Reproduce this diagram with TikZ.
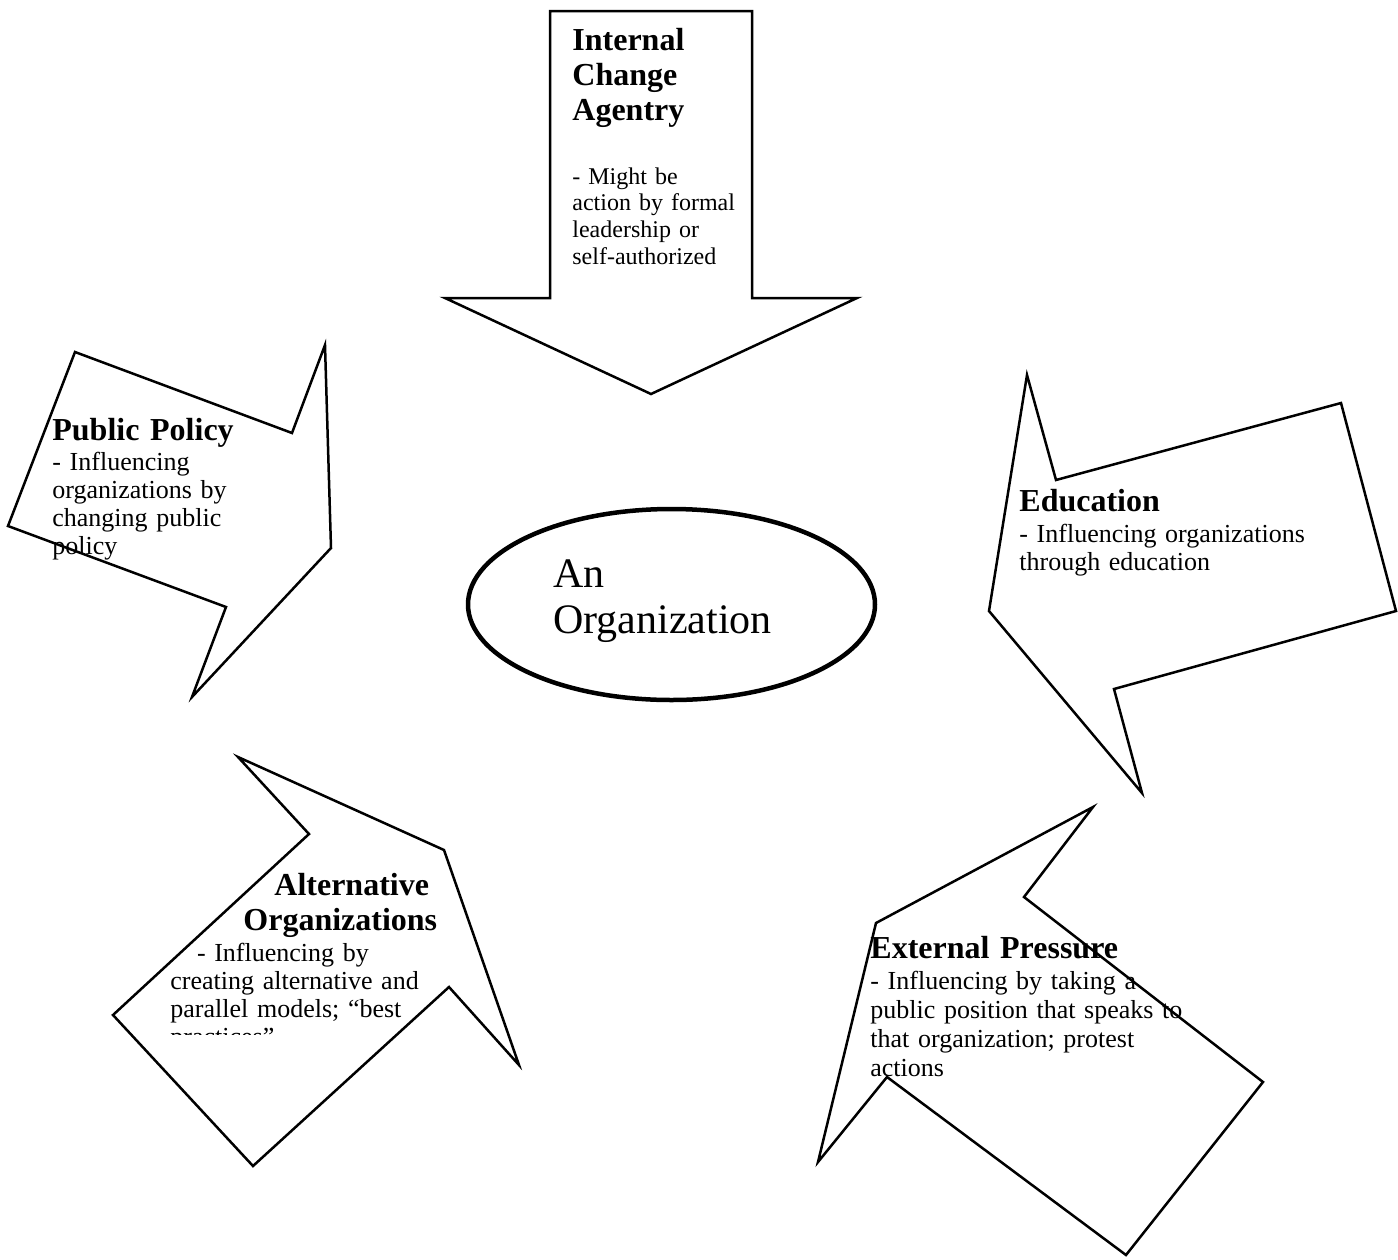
\documentclass[tikz,border=0pt]{standalone}
\usepackage{fontspec}
\setmainfont{Liberation Serif}
\usepackage{tikz}
\usetikzlibrary{shapes.geometric}
\usetikzlibrary{positioning}

\begin{document}
\begin{tikzpicture}[x=0.5pt,y=-0.5pt]
    \tikzstyle{callout}=[draw=black, fill=white, line width=1.25pt, line join=miter]
    \tikzstyle{heading}=[anchor=base west, inner sep=0pt, text width=150pt, align=left,
    font=\fontsize{16}{17.5}\selectfont\bfseries]
    \tikzstyle{body}=[anchor=base west, inner sep=0pt, text width=180pt, align=left,
    font=\fontsize{13}{14}\selectfont]
    \useasboundingbox (0,0) rectangle (1398,1259);

    % arrow from above
    \draw[callout] (550,11) -- (752,11) -- (752,298) -- (857,298) -- (651,394)
    -- (445,298) -- (550,298) -- cycle;
    \draw[callout] (75,352) -- (292,433) -- (325,345) -- (331,548) -- (192,697)
    -- (226,607) -- (8,526) -- cycle;
    \draw[callout] (1027,375) -- (1056,480) -- (1341,403) -- (1396,611) -- (1114,689)
    -- (1142,793) -- (989,611) -- cycle;
    \draw[callout] (238,757) -- (444,850) -- (519,1065) -- (449,987) -- (253,1166)
    -- (113,1015) -- (309,834) -- cycle;
    \draw[callout] (1093,807) -- (1024,897) -- (1263,1082) -- (1126,1255) -- (887,1077)
    -- (818,1162) -- (876,923) -- cycle;

    \node[ellipse, draw, line width=2.25pt, minimum width=203.5pt,
    minimum height=95.5pt, inner sep=0pt](org) at (671.5,604.5){};
    \node[anchor=base west, inner sep=0pt, text width=130pt, align=left,
    font=\fontsize{21}{23}\selectfont](orgtext) at (553,587){An\\Organization};

\node[heading](agentryhead) at (572,50){Internal\\Change\\Agentry};
\node[body, font=\fontsize{12}{13.35}\selectfont](agentrybody) at (572,184){- Might be\\action by formal\\leadership or\\self-authorized};

\node[heading](policyhead) at (52,440){Public Policy};
\node[body](policybody) at (52,470){- Influencing\\organizations by\\changing public\\policy};

\node[heading](eduhead) at (1019,511){Education};
\node[body](edubody) at (1019,542){- Influencing organizations\\through education};

\node[heading](althead) at (243,895){\hspace*{15.5pt}Alternative\\Organizations};
\begin{scope}
    \clip (100,740) rectangle (540,1034);
    \node[body](altbody) at (170,961){\hspace*{13.3pt}- Influencing by\\creating alternative and\\parallel models; “best\\practices”};
\end{scope}

\node[heading](pressurehead) at (870,958){External Pressure};
\node[body, font=\fontsize{13}{14.5}\selectfont](pressurebody) at (870,989){- Influencing by taking a\\public position that speaks to\\that organization; protest\\actions};
\end{tikzpicture}
\end{document}
